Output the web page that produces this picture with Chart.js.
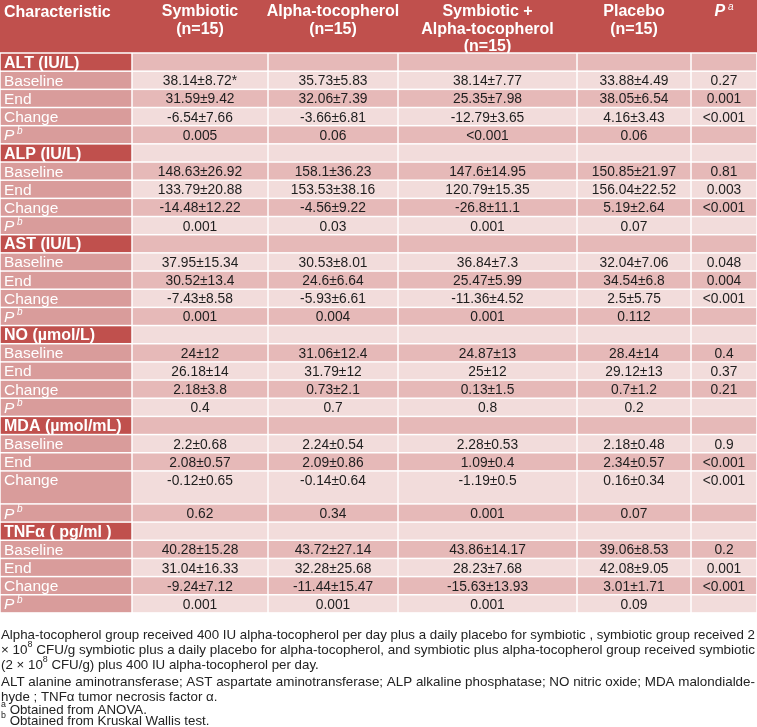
<!DOCTYPE html>
<html>
<head>
<meta charset="utf-8">
<script src="https://cdn.jsdelivr.net/npm/chart.js"></script>
<style>
  body { margin: 0; background: #fff; }
  #wrap { width: 757px; height: 727px; }
</style>
</head>
<body>
<div id="wrap"><canvas id="tbl"></canvas></div>
<script>
// table content
let groups = ['Symbiotic\n(n=15)', 'Alpha-tocopherol\n(n=15)', 'Symbiotic +\nAlpha-tocopherol\n(n=15)', 'Placebo\n(n=15)'];
let markers = ['ALT (IU/L)', 'ALP (IU/L)', 'AST (IU/L)', 'NO (µmol/L)', 'MDA (µmol/mL)', 'TNFα ( pg/ml )'];
let rowLabels = ['Baseline', 'End', 'Change'];

let baselineVals = [
  ['38.14±8.72*', '35.73±5.83', '38.14±7.77', '33.88±4.49'],
  ['148.63±26.92', '158.1±36.23', '147.6±14.95', '150.85±21.97'],
  ['37.95±15.34', '30.53±8.01', '36.84±7.3', '32.04±7.06'],
  ['24±12', '31.06±12.4', '24.87±13', '28.4±14'],
  ['2.2±0.68', '2.24±0.54', '2.28±0.53', '2.18±0.48'],
  ['40.28±15.28', '43.72±27.14', '43.86±14.17', '39.06±8.53']
];
let baselineP = ['0.27', '0.81', '0.048', '0.4', '0.9', '0.2'];

let endVals = [
  ['31.59±9.42', '32.06±7.39', '25.35±7.98', '38.05±6.54'],
  ['133.79±20.88', '153.53±38.16', '120.79±15.35', '156.04±22.52'],
  ['30.52±13.4', '24.6±6.64', '25.47±5.99', '34.54±6.8'],
  ['26.18±14', '31.79±12', '25±12', '29.12±13'],
  ['2.08±0.57', '2.09±0.86', '1.09±0.4', '2.34±0.57'],
  ['31.04±16.33', '32.28±25.68', '28.23±7.68', '42.08±9.05']
];
let endP = ['0.001', '0.003', '0.004', '0.37', '<0.001', '0.001'];

let changeVals = [
  ['-6.54±7.66', '-3.66±6.81', '-12.79±3.65', '4.16±3.43'],
  ['-14.48±12.22', '-4.56±9.22', '-26.8±11.1', '5.19±2.64'],
  ['-7.43±8.58', '-5.93±6.61', '-11.36±4.52', '2.5±5.75'],
  ['2.18±3.8', '0.73±2.1', '0.13±1.5', '0.7±1.2'],
  ['-0.12±0.65', '-0.14±0.64', '-1.19±0.5', '0.16±0.34'],
  ['-9.24±7.12', '-11.44±15.47', '-15.63±13.93', '3.01±1.71']
];
let changeP = ['<0.001', '<0.001', '<0.001', '0.21', '<0.001', '<0.001'];

let withinP = [
  ['0.005', '0.06', '<0.001', '0.06'],
  ['0.001', '0.03', '0.001', '0.07'],
  ['0.001', '0.004', '0.001', '0.112'],
  ['0.4', '0.7', '0.8', '0.2'],
  ['0.62', '0.34', '0.001', '0.07'],
  ['0.001', '0.001', '0.001', '0.09']
];

let notes = [
  [['Alpha-tocopherol group received 400 IU alpha-tocopherol per day plus a daily placebo for symbiotic , symbiotic group received 2']],
  [['× 10'], ['8', 'sup'], [' CFU/g symbiotic plus a daily placebo for alpha-tocopherol, and symbiotic plus alpha-tocopherol group received symbiotic']],
  [['(2 × 10'], ['8', 'sup'], [' CFU/g) plus 400 IU alpha-tocopherol per day.']],
  [['ALT alanine aminotransferase; AST aspartate aminotransferase; ALP alkaline phosphatase; NO nitric oxide; MDA malondialde-']],
  [['hyde ; TNFα tumor necrosis factor α.']],
  [['a', 'sup'], [' Obtained from ANOVA.']],
  [['b', 'sup'], [' Obtained from Kruskal Wallis test.']]
];
let justified = [true, true, false, true, false, false, false];

// layout
const colEdges = [0, 132, 268, 398, 577, 691, 757];
const headBottom = 53;
const rowH = 18.17;
const tallRowH = 33;
const noteY = [635, 650, 665, 682, 697, 710, 721];
const FONT = '"Liberation Sans", Arial, sans-serif';
const NARROW = '"Liberation Sans Narrow", "Arial Narrow", "Liberation Sans", Arial, sans-serif';
const DARK = '#c0504d', MID = '#e6b9b8', LIGHT = '#f2dcdb', SIDE = '#d99c9b';

// build row list
let rows = [];
markers.forEach((m, i) => {
  rows.push({ kind: 'section', label: m });
  rows.push({ kind: 'data', label: rowLabels[0], cells: baselineVals[i], p: baselineP[i] });
  rows.push({ kind: 'data', label: rowLabels[1], cells: endVals[i], p: endP[i] });
  rows.push({ kind: 'data', label: rowLabels[2], cells: changeVals[i], p: changeP[i], tall: i === 4 });
  rows.push({ kind: 'pb', cells: withinP[i], p: '' });
});

function rich(ctx, segs, x, y, align, sx) {
  let w = 0;
  segs.forEach(s => { ctx.font = s.font; s.w = ctx.measureText(s.t).width; w += s.w; });
  sx = sx || 1;
  let start = align === 'center' ? x - w * sx / 2 : x;
  ctx.save();
  ctx.translate(start, y);
  ctx.scale(sx, 1);
  let cx = 0;
  segs.forEach(s => { ctx.font = s.font; ctx.fillText(s.t, cx, s.dy || 0); cx += s.w; });
  ctx.restore();
  return w;
}

const tablePlugin = {
  id: 'table',
  afterDraw(chart) {
    const ctx = chart.ctx;
    const xs = chart.scales.x, ys = chart.scales.y;
    const X = v => xs.getPixelForValue(v);
    const Y = v => ys.getPixelForValue(v);
    const cell = (c, y0, y1, color) => {
      ctx.fillStyle = color;
      ctx.fillRect(X(colEdges[c]) + 0.75, Y(y0) + 0.75, X(colEdges[c + 1]) - X(colEdges[c]) - 1.5, Y(y1) - Y(y0) - 1.5);
    };
    ctx.save();
    ctx.textBaseline = 'middle';
    ctx.textAlign = 'left';

    // header
    ctx.fillStyle = DARK;
    ctx.fillRect(X(0), Y(0), X(757) - X(0), Y(headBottom) - Y(0) - 0.75);
    ctx.fillStyle = '#fff';
    ctx.font = 'bold 16px ' + FONT;
    ctx.fillText('Characteristic', X(4), Y(13));
    groups.forEach((g, i) => {
      const cx = (X(colEdges[i + 1]) + X(colEdges[i + 2])) / 2;
      g.split('\n').forEach((ln, k) => {
        ctx.font = 'bold 16px ' + FONT;
        ctx.textAlign = 'center';
        ctx.fillText(ln, cx, Y(12 + k * 17.5));
      });
    });
    ctx.textAlign = 'left';
    rich(ctx, [{ t: 'P', font: 'bold italic 16px ' + FONT }, { t: ' a', font: 'italic 10px ' + FONT, dy: -5 }],
      (X(colEdges[5]) + X(colEdges[6])) / 2, Y(12), 'center');

    // body
    let y0 = headBottom;
    rows.forEach((r, idx) => {
      const h = r.tall ? tallRowH : rowH;
      const y1 = y0 + h;
      const band = idx % 2 === 0 ? MID : LIGHT;
      const ty = Y(y0 + rowH / 2 + 1.2);
      if (r.kind === 'section') {
        cell(0, y0, y1, DARK);
        for (let c = 1; c < 6; c++) cell(c, y0, y1, band);
        ctx.fillStyle = '#fff';
        ctx.font = 'bold 16px ' + FONT;
        ctx.fillText(r.label, X(4), ty);
      } else {
        cell(0, y0, y1, SIDE);
        for (let c = 1; c < 6; c++) cell(c, y0, y1, band);
        ctx.fillStyle = '#fff';
        if (r.kind === 'pb') {
          rich(ctx, [{ t: 'P', font: 'italic 15.5px ' + FONT }, { t: ' b', font: 'italic 10px ' + FONT, dy: -5 }], X(4), ty, 'left');
        } else {
          ctx.font = '15.5px ' + FONT;
          ctx.fillText(r.label, X(4), ty);
        }
        ctx.fillStyle = '#1e1e1e';
        ctx.font = '13.8px ' + FONT;
        ctx.textAlign = 'center';
        r.cells.concat([r.p]).forEach((v, c) => {
          ctx.fillText(v, (X(colEdges[c + 1]) + X(colEdges[c + 2])) / 2, ty);
        });
        ctx.textAlign = 'left';
      }
      y0 = y1;
    });

    // notes
    ctx.fillStyle = '#222';
    const segsOf = line => line.map(s => s[1] === 'sup'
      ? { t: s[0], font: '9px ' + NARROW, dy: -5 }
      : { t: s[0], font: '13.5px ' + NARROW });
    const natural = line => {
      let w = 0;
      segsOf(line).forEach(s => { ctx.font = s.font; w += ctx.measureText(s.t).width; });
      return w;
    };
    const k = (X(755) - X(1)) / natural(notes[0]);
    notes.forEach((line, i) => {
      const sx = justified[i] ? (X(755) - X(1)) / natural(line) : k;
      rich(ctx, segsOf(line), X(1), Y(noteY[i]), 'left', sx);
    });
    ctx.restore();
  }
};

new Chart(document.getElementById('tbl'), {
  type: 'scatter',
  data: { datasets: [] },
  options: {
    responsive: true,
    maintainAspectRatio: false,
    animation: false,
    layout: { padding: 0 },
    scales: {
      x: { type: 'linear', min: 0, max: 757, display: false },
      y: { type: 'linear', min: 0, max: 727, reverse: true, display: false }
    },
    plugins: { legend: { display: false }, tooltip: { enabled: false } }
  },
  plugins: [tablePlugin]
});
</script>
</body>
</html>
